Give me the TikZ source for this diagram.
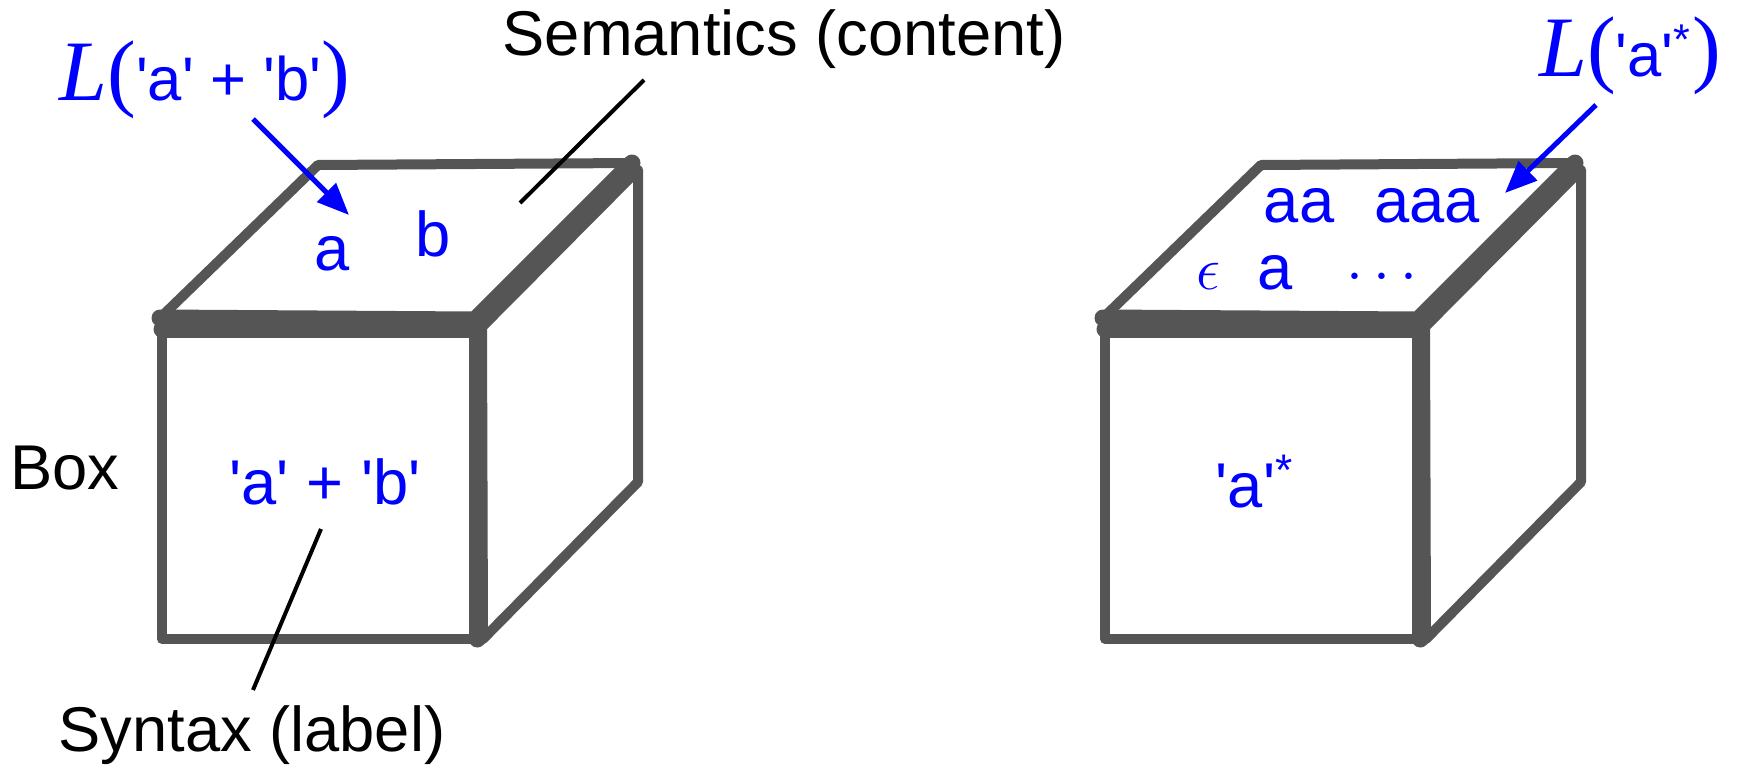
\documentclass[tikz,border=0pt]{standalone}
\usepackage{fontspec}
\setmainfont{Liberation Sans}
\newfontfamily\timesfam{Liberation Serif}
\usetikzlibrary{arrows.meta}
\definecolor{cubegray}{HTML}{555555}
\newcommand{\sq}{\textquotesingle}
\newcommand{\bigser}{\fontsize{24.5}{28}\selectfont\timesfam}
\newcommand{\Lof}[1]{{\bigser\itshape L\/\upshape(}#1{\bigser)}}

\begin{document}
\begin{tikzpicture}[
  face/.style={draw=cubegray, line width=0.1cm, line join=round, line cap=round},
  edge/.style={draw=cubegray, line width=0.17cm, line join=round, line cap=round},
  txt/.style={inner sep=0pt, font=\fontsize{18}{21}\selectfont},
  blu/.style={txt, text=blue},
  lang/.style={inner sep=0pt, text=blue, font=\fontsize{17.5}{20}\selectfont},
  ptr/.style={blue, line width=0.05cm, -{Triangle[length=0.32cm,width=0.26cm]}},
  lead/.style={black, line width=0.04cm}
]
\useasboundingbox (0,0) rectangle (17.46,7.67);
% the two cubes
\foreach \dx in {0, 9.43} {
  \begin{scope}[xshift=\dx cm]
    % top face
    \draw[face] (1.60,4.49) -- (4.75,4.47) -- (6.32,6.04) -- (3.18,6.02) -- cycle;
    % right face
    \draw[face] (4.82,4.40) -- (6.38,5.97) -- (6.38,2.85) -- (4.83,1.28) -- cycle;
    % front face
    \draw[face] (1.62,1.28) rectangle (4.77,4.38);
    % heavy edges
    \draw[edge] (1.60,4.49) -- (4.75,4.47) -- (6.32,6.04);
    \draw[edge] (1.62,4.38) -- (4.77,4.38) -- (4.77,1.28);
  \end{scope}
}
% left cube: 'a' + 'b'
\node[lang] (langab) at (2.05,6.87) {\Lof{\sq a\sq{} + \sq b\sq}};
\node[txt] (sem) at (7.84,7.28) {Semantics (content)};
\node[blu] (wa) at (3.32,5.13) {a};
\node[blu] (wb) at (4.33,5.33) {b};
\node[txt] (box) at (0.65,2.99) {Box};
\node[blu] (synab) at (3.25,2.85) {\sq a\sq{} + \sq b\sq};
\node[txt] (syn) at (2.52,0.32) {Syntax (label)};
\coordinate (ptrLs) at (2.53,6.48);
\coordinate (ptrLe) at (3.49,5.52);
\coordinate (semS) at (6.44,6.87);
\coordinate (semE) at (5.20,5.64);
\coordinate (synS) at (3.21,2.38);
\coordinate (synE) at (2.53,0.77);
\draw[ptr] (ptrLs) -- (ptrLe);
\draw[lead] (semS) -- (semE);
\draw[lead] (synS) -- (synE);
% right cube: 'a'*
\node[lang] (langas) at (16.30,7.11) {\Lof{\sq a\sq\textsuperscript{*}}};
\node[blu] (waa) at (12.99,5.61) {aa};
\node[blu] (waaa) at (14.27,5.61) {aaa};
\node[blu] (weps) at (12.08,4.91) {$\epsilon$};
\node[blu] (wa1) at (12.75,4.94) {a};
\node[blu] (wdots) at (13.82,4.89) {$\cdots$};
\node[blu] (synas) at (12.55,2.85) {\sq a\sq\textsuperscript{*}};
\coordinate (ptrRs) at (15.96,6.62);
\coordinate (ptrRe) at (15.05,5.74);
\draw[ptr] (ptrRs) -- (ptrRe);
\end{tikzpicture}
\end{document}
